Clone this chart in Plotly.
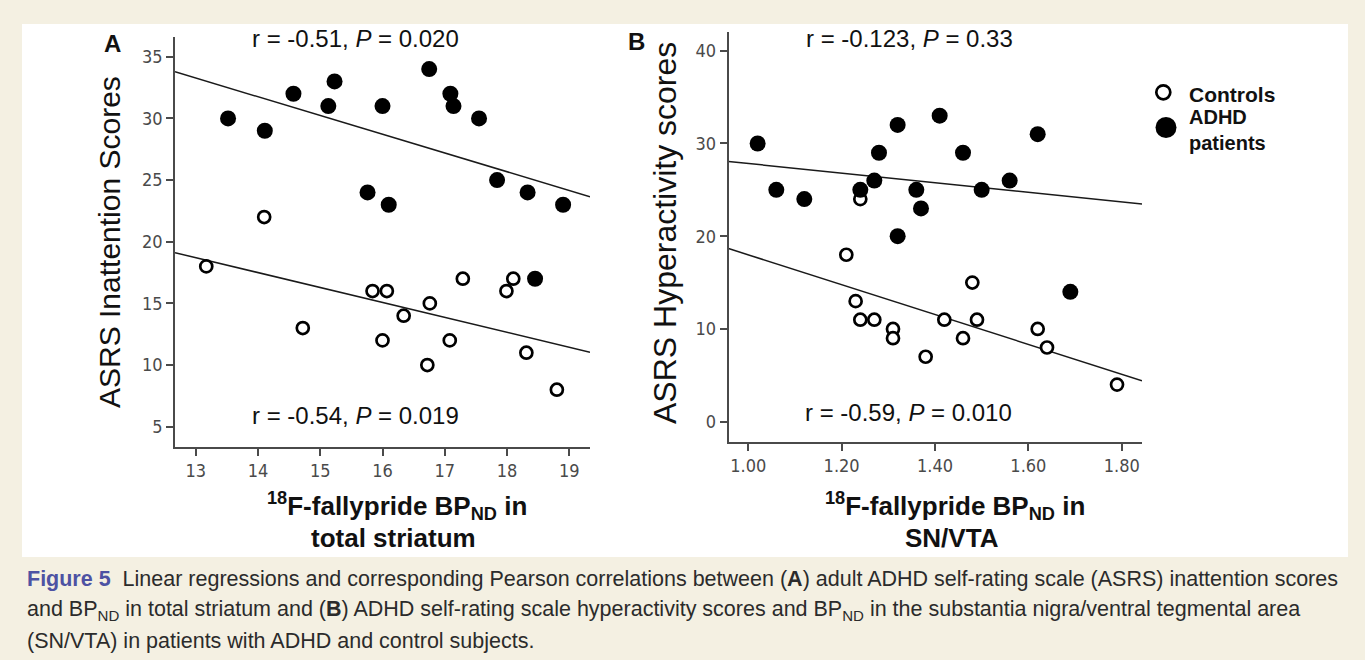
import plotly.graph_objects as go

W, H = 1365, 660

# ---------------- data ----------------
# Panel A: total striatum BPnd vs ASRS inattention
a_ctrl_x = [14.10, 13.17, 15.84, 16.07, 17.29, 17.99, 18.10, 14.72, 16.76, 16.34, 16.00, 17.08, 16.72, 18.31, 18.80]
a_ctrl_y = [22, 18, 16, 16, 17, 16, 17, 13, 15, 14, 12, 12, 10, 11, 8]
a_adhd_x = [13.52, 14.11, 14.57, 15.13, 15.23, 16.00, 15.76, 16.10, 16.75, 17.09, 17.14, 17.55, 17.84, 18.33, 18.90, 18.45]
a_adhd_y = [30, 29, 32, 31, 33, 31, 24, 23, 34, 32, 31, 30, 25, 24, 23, 17]
a_fit_x = [12.668, 19.332]
a_fit_adhd_y = [33.78, 23.65]
a_fit_ctrl_y = [19.11, 11.04]

# Panel B: SN/VTA BPnd vs ASRS hyperactivity
b_ctrl_x = [1.24, 1.21, 1.23, 1.24, 1.27, 1.31, 1.31, 1.38, 1.42, 1.46, 1.48, 1.49, 1.62, 1.64, 1.79]
b_ctrl_y = [24, 18, 13, 11, 11, 10, 9, 7, 11, 9, 15, 11, 10, 8, 4]
b_adhd_x = [1.02, 1.06, 1.12, 1.24, 1.27, 1.28, 1.32, 1.32, 1.36, 1.37, 1.41, 1.46, 1.50, 1.56, 1.62, 1.69]
b_adhd_y = [30, 25, 24, 25, 26, 29, 32, 20, 25, 23, 33, 29, 25, 26, 31, 14]
b_fit_x = [0.9576, 1.8435]
b_fit_adhd_y = [28.06, 23.47]
b_fit_ctrl_y = [18.67, 4.42]

a_xticks = [13, 14, 15, 16, 17, 18, 19]
a_yticks = [5, 10, 15, 20, 25, 30, 35]
b_xticks = [1.0, 1.2, 1.4, 1.6, 1.8]
b_xticklabels = ["1.00", "1.20", "1.40", "1.60", "1.80"]
b_yticks = [0, 10, 20, 30, 40]

stat_texts = {
    "a_top": "r = -0.51, <i>P</i> = 0.020",
    "a_bot": "r = -0.54, <i>P</i> = 0.019",
    "b_top": "r = -0.123, <i>P</i> = 0.33",
    "b_bot": "r = -0.59, <i>P</i> = 0.010",
}
legend_labels = ["Controls", "ADHD<br>patients"]

caption_lines = [
    "<b><span style='color:#4d52a3'>Figure 5</span></b>  Linear regressions and corresponding Pearson correlations between (<b>A</b>) adult ADHD self-rating scale (ASRS) inattention scores",
    "and BP<sub>ND</sub> in total striatum and (<b>B</b>) ADHD self-rating scale hyperactivity scores and BP<sub>ND</sub> in the substantia nigra/ventral tegmental area",
    "(SN/VTA) in patients with ADHD and control subjects.",
]

# ---------------- helpers ----------------
def fx(px):
    return px / W

def fy(py):
    return 1 - py / H

CREAM = "#f4f0e2"
AXC = "#4a4a4a"
NARROW = "Liberation Sans Narrow, Arial Narrow, DejaVu Sans Condensed, Liberation Sans, sans-serif"
TICKFONT = dict(family=NARROW, size=18, color="#4a4a4a")

fig = go.Figure()

ctrl_marker = dict(symbol="circle", size=12, color="white", line=dict(color="black", width=2.7))
adhd_marker = dict(symbol="circle", size=16, color="black", line=dict(width=0))
line_style = dict(color="#1a1a1a", width=1.5)

for xa, ya, cx, cy, dx, dy, fxv, fa, fc in [
    ("x", "y", a_ctrl_x, a_ctrl_y, a_adhd_x, a_adhd_y, a_fit_x, a_fit_adhd_y, a_fit_ctrl_y),
    ("x2", "y2", b_ctrl_x, b_ctrl_y, b_adhd_x, b_adhd_y, b_fit_x, b_fit_adhd_y, b_fit_ctrl_y),
]:
    fig.add_trace(go.Scatter(x=fxv, y=fa, mode="lines", line=line_style, xaxis=xa, yaxis=ya, showlegend=False, hoverinfo="skip"))
    fig.add_trace(go.Scatter(x=fxv, y=fc, mode="lines", line=line_style, xaxis=xa, yaxis=ya, showlegend=False, hoverinfo="skip"))
    fig.add_trace(go.Scatter(x=cx, y=cy, mode="markers", marker=ctrl_marker, xaxis=xa, yaxis=ya, name="Controls", showlegend=False))
    fig.add_trace(go.Scatter(x=dx, y=dy, mode="markers", marker=adhd_marker, xaxis=xa, yaxis=ya, name="ADHD patients", showlegend=False))

axis_common = dict(showline=True, linecolor=AXC, linewidth=1.5, ticks="outside", ticklen=7, tickwidth=1.5,
                   tickcolor=AXC, showgrid=False, zeroline=False, tickfont=TICKFONT, fixedrange=True)

fig.update_layout(
    width=W, height=H,
    margin=dict(l=0, r=0, t=0, b=0),
    paper_bgcolor=CREAM,
    plot_bgcolor="rgba(0,0,0,0)",
    showlegend=False,
    xaxis=dict(domain=[fx(175), fx(590)], range=[12.668, 19.332], tickvals=a_xticks, anchor="y", **axis_common),
    yaxis=dict(domain=[fy(447), fy(37)], range=[3.355, 36.6], tickvals=a_yticks, anchor="x", **axis_common),
    xaxis2=dict(domain=[fx(728.5), fx(1142)], range=[0.9576, 1.8435], tickvals=b_xticks, ticktext=b_xticklabels, anchor="y2", **axis_common),
    yaxis2=dict(domain=[fy(442), fy(32)], range=[-2.19, 42.02], tickvals=b_yticks, anchor="x2", **axis_common),
)

shapes = [
    dict(type="rect", xref="paper", yref="paper", x0=fx(22), x1=fx(1348), y0=fy(557), y1=fy(24),
         fillcolor="white", line=dict(width=0), layer="below"),
    # legend glyphs
    dict(type="circle", xref="paper", yref="paper", x0=fx(1156.3), x1=fx(1170.3), y0=fy(99.3), y1=fy(85.3),
         fillcolor="white", line=dict(color="black", width=2.7)),
    dict(type="circle", xref="paper", yref="paper", x0=fx(1155.5), x1=fx(1176.5), y0=fy(138), y1=fy(117),
         fillcolor="black", line=dict(color="black", width=0)),
]
fig.update_layout(shapes=shapes)

ann = []
def add_text(text, px, py, size, family="Liberation Sans, Arial, sans-serif", color="#111111", xanchor="center", bold=False, align="center"):
    if bold:
        text = "<b>" + text + "</b>"
    ann.append(dict(text=text, x=fx(px), y=fy(py), xref="paper", yref="paper", showarrow=False,
                    xanchor=xanchor, yanchor="middle", align=align, font=dict(family=family, size=size, color=color)))

# stats
add_text(stat_texts["a_top"], 355, 38, 24)
add_text(stat_texts["a_bot"], 355, 415, 24)
add_text(stat_texts["b_top"], 909, 38, 24)
add_text(stat_texts["b_bot"], 908, 412, 24)
# panel letters
add_text("A", 112, 43, 24, bold=True)
add_text("B", 636, 41, 24, bold=True)
# x-axis titles
add_text("<sup>18</sup>F-fallypride BP<sub>ND</sub> in", 397, 506, 26, bold=True)
add_text("total striatum", 394, 538, 26, bold=True)
add_text("<sup>18</sup>F-fallypride BP<sub>ND</sub> in", 955, 506, 26, bold=True)
add_text("SN/VTA", 952, 538, 26, bold=True)
# legend texts
add_text(legend_labels[0], 1187, 94, 21, xanchor="left", bold=True)
add_text(legend_labels[1], 1187, 130, 20, xanchor="left", bold=True, align="left")
# captions
for i, line in enumerate(caption_lines):
    add_text(line, 25, 579 + 31 * i, 21.5, family="Liberation Sans, Arial, sans-serif", color="#2b2b2b", xanchor="left", align="left")

# y-axis titles (rotated)
ann.append(dict(text="ASRS Inattention Scores", x=fx(109), y=fy(242), xref="paper", yref="paper", showarrow=False,
                textangle=-90, xanchor="center", yanchor="middle",
                font=dict(family="Liberation Sans, Arial, sans-serif", size=30, color="#111111")))
ann.append(dict(text="ASRS Hyperactivity scores", x=fx(665), y=fy(233), xref="paper", yref="paper", showarrow=False,
                textangle=-90, xanchor="center", yanchor="middle",
                font=dict(family="Liberation Sans, Arial, sans-serif", size=32, color="#111111")))
fig.update_layout(annotations=ann)

fig.write_html("out.html", config={"displayModeBar": False})
